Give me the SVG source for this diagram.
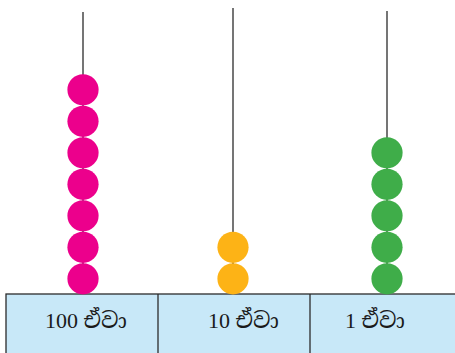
<svg xmlns="http://www.w3.org/2000/svg" width="455" height="353" viewBox="0 0 455 353">
  <style>
    .rod { stroke: #2b2b2b; stroke-width: 1.3; fill: none; }
    .pink { fill: #EC008C; }
    .orange { fill: #FDB316; }
    .green { fill: #3FAD49; }
    .label { font-family: "Liberation Serif", "Noto Serif Sinhala", "Noto Sans Sinhala", "Iskoola Pota", serif; font-size: 22px; fill: #1a1a1a; }
  </style>
  <defs>
    <circle id="bead" r="15.6"/>
  </defs>

  <!-- base table -->
  <g id="base">
    <rect x="6" y="294" width="460" height="70" fill="#C8E8F8" stroke="#2b2b2b" stroke-width="1.3"/>
    <line x1="158" y1="294" x2="158" y2="353" class="rod"/>
    <line x1="310" y1="294" x2="310" y2="353" class="rod"/>
  </g>

  <g id="connectors">
    <line class="rod" x1="83" y1="12" x2="83" y2="294"/>
    <line class="rod" x1="233" y1="8" x2="233" y2="294"/>
    <line class="rod" x1="387" y1="11" x2="387" y2="294"/>
  </g>

  <!-- hundreds rod: 7 beads -->
  <g id="hundreds" class="pink">
    <use href="#bead" x="83" y="89.8"/>
    <use href="#bead" x="83" y="121.3"/>
    <use href="#bead" x="83" y="152.8"/>
    <use href="#bead" x="83" y="184.3"/>
    <use href="#bead" x="83" y="215.8"/>
    <use href="#bead" x="83" y="247.3"/>
    <use href="#bead" x="83" y="278.8"/>
  </g>

  <!-- tens rod: 2 beads -->
  <g id="tens" class="orange">
    <use href="#bead" x="233" y="247.3"/>
    <use href="#bead" x="233" y="278.8"/>
  </g>

  <!-- ones rod: 5 beads -->
  <g id="ones" class="green">
    <use href="#bead" x="387" y="152.8"/>
    <use href="#bead" x="387" y="184.3"/>
    <use href="#bead" x="387" y="215.8"/>
    <use href="#bead" x="387" y="247.3"/>
    <use href="#bead" x="387" y="278.8"/>
  </g>

  <g id="labels">
    <text class="label" x="45" y="328">100 ඒවා</text>
    <text class="label" x="208" y="328">10 ඒවා</text>
    <text class="label" x="345" y="328">1 ඒවා</text>
  </g>
</svg>
